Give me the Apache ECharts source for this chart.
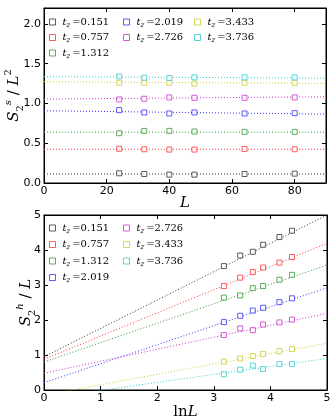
<!DOCTYPE html>
<html>
<head>
<meta charset="utf-8">
<script src="https://cdn.jsdelivr.net/npm/echarts@6/dist/echarts.min.js"></script>
<style>
  html, body { margin: 0; padding: 0; background: #fff; }
  #main { width: 336px; height: 420px; }
</style>
</head>
<body>
<div id="main"></div>
<script>
// 数据
var tzLabels = ['0.151', '0.757', '1.312', '2.019', '2.726', '3.433', '3.736'];
var colors = ['#333333', '#ff3333', '#339933', '#3333ff', '#cc33cc', '#cccc33', '#33cccc'];
var sizesL = [24, 32, 40, 48, 64, 80];
var lnL = [3.178, 3.466, 3.689, 3.871, 4.159, 4.382];

// S2^s / L^2 (上图)
var ssValues = [
  [0.122, 0.113, 0.105, 0.105, 0.113, 0.118],
  [0.430, 0.424, 0.420, 0.420, 0.428, 0.424],
  [0.626, 0.655, 0.655, 0.647, 0.643, 0.643],
  [0.916, 0.887, 0.874, 0.887, 0.874, 0.878],
  [1.050, 1.059, 1.076, 1.071, 1.071, 1.076],
  [1.260, 1.260, 1.260, 1.248, 1.260, 1.260],
  [1.340, 1.324, 1.320, 1.328, 1.328, 1.328]
];
// 拟合线 y = a + b*L
var ssFitA = [0.113, 0.424, 0.639, 0.908, 1.055, 1.273, 1.336];
var ssFitB = [0, 0, 0, -0.00047, 0.00032, -0.00023, -0.00019];

// S2^h / L (下图)
var shValues = [
  [3.54, 3.84, 3.95, 4.15, 4.37, 4.55],
  [2.97, 3.21, 3.37, 3.50, 3.64, 3.80],
  [2.64, 2.70, 2.91, 2.97, 3.15, 3.29],
  [1.94, 2.12, 2.27, 2.35, 2.51, 2.62],
  [1.57, 1.76, 1.71, 1.87, 1.93, 2.01],
  [0.81, 0.90, 0.97, 1.03, 1.11, 1.17],
  [0.45, 0.58, 0.70, 0.60, 0.74, 0.74]
];
// 拟合线 y = a + b*lnL
var shFitA = [0.95, 0.88, 0.80, 0.21, 0.48, -0.145, -0.24];
var shFitB = [0.81, 0.662, 0.554, 0.542, 0.342, 0.296, 0.228];

var tickFont = { color: '#000', fontFamily: 'DejaVu Sans', fontSize: 11, margin: 3 };
var mathRich = {
  i: { fontFamily: 'DejaVu Serif', fontStyle: 'italic', fontSize: 15, color: '#000' },
  n: { fontFamily: 'DejaVu Serif', fontSize: 15, color: '#000' },
  sub: { fontFamily: 'DejaVu Serif', fontSize: 10, color: '#000', verticalAlign: 'bottom', lineHeight: 22 },
  sup: { fontFamily: 'DejaVu Serif', fontStyle: 'italic', fontSize: 10, color: '#000', verticalAlign: 'top', lineHeight: 22 },
  supn: { fontFamily: 'DejaVu Serif', fontSize: 10, color: '#000', verticalAlign: 'top', lineHeight: 22 }
};
var legendRich = {
  i: { fontFamily: 'DejaVu Serif', fontStyle: 'italic', fontSize: 10, color: '#000' },
  z: { fontFamily: 'DejaVu Serif', fontStyle: 'italic', fontSize: 7, color: '#000', verticalAlign: 'bottom', lineHeight: 13, padding: [0, 2, 0, 0] },
  n: { fontFamily: 'DejaVu Serif', fontSize: 10, color: '#000' }
};

function legendName(i) { return 't_z=' + tzLabels[i]; }

function valueAxis(gridIndex, min, max, interval, extra) {
  var ax = {
    type: 'value', gridIndex: gridIndex, min: min, max: max, interval: interval,
    axisLine: { show: true, onZero: false, lineStyle: { color: '#000', width: 1 } },
    axisTick: { show: true, inside: true, length: 4, lineStyle: { color: '#000' } },
    axisLabel: tickFont,
    splitLine: { show: false }
  };
  for (var k in extra) ax[k] = extra[k];
  return ax;
}
function mirrorAxis(gridIndex, min, max, interval, pos) {
  return valueAxis(gridIndex, min, max, interval, { position: pos, axisLabel: { show: false } });
}

var chart = echarts.init(document.getElementById('main'), null, { renderer: 'canvas' });

var xAxes = [
  valueAxis(0, 0, 90, 20, {
    name: '{i|L}', nameLocation: 'middle', nameGap: 13, nameMoveOverlap: false,
    nameTextStyle: { rich: mathRich },
    axisLabel: { color: '#000', fontFamily: 'DejaVu Sans', fontSize: 11, margin: 3, showMaxLabel: false }
  }),
  mirrorAxis(0, 0, 90, 20, 'top'),
  valueAxis(1, 0, 5, 1, {
    name: '{n|ln}{i|L}', nameLocation: 'middle', nameGap: 15, nameMoveOverlap: false,
    nameTextStyle: { rich: mathRich }
  }),
  mirrorAxis(1, 0, 5, 1, 'top')
];
var yAxes = [
  valueAxis(0, 0, 2.2, 0.5, {
    name: '{i|S}{sub|2}{sup|s}{n| / }{i|L}{supn|2}', nameLocation: 'middle', nameGap: 19, nameRotate: 90,
    nameMoveOverlap: false,
    nameTextStyle: { rich: mathRich },
    axisLabel: { color: '#000', fontFamily: 'DejaVu Sans', fontSize: 11, margin: 3, showMaxLabel: false,
      formatter: function (v) { return v.toFixed(1); } }
  }),
  mirrorAxis(0, 0, 2.2, 0.5, 'right'),
  valueAxis(1, 0, 5, 1, {
    name: '{i|S}{sub|2}{sup|h}{n| / }{i|L}', nameLocation: 'middle', nameGap: 7, nameRotate: 90,
    nameMoveOverlap: false,
    nameTextStyle: { rich: mathRich }
  }),
  mirrorAxis(1, 0, 5, 1, 'right')
];

var series = [];

for (var i = 0; i < tzLabels.length; i++) {
  // 上图拟合线
  series.push({
    type: 'line', xAxisIndex: 0, yAxisIndex: 0, showSymbol: false, silent: true, z: 1,
    data: [[0, ssFitA[i]], [90, ssFitA[i] + ssFitB[i] * 90]],
    lineStyle: { color: colors[i], width: 1, type: [1, 2] }
  });
  series.push({
    type: 'scatter', name: legendName(i), xAxisIndex: 0, yAxisIndex: 0, symbol: 'rect', symbolSize: 5, z: 3,
    data: sizesL.map((function (row) { return function (L, j) { return [L, row[j]]; }; })(ssValues[i])),
    itemStyle: { color: '#fff', borderColor: colors[i], borderWidth: 1 }
  });
  // 下图拟合线
  series.push({
    type: 'line', xAxisIndex: 2, yAxisIndex: 2, showSymbol: false, silent: true, z: 1, clip: true,
    data: [[0, shFitA[i]], [5, shFitA[i] + shFitB[i] * 5]],
    lineStyle: { color: colors[i], width: 1, type: [1, 2] }
  });
  series.push({
    type: 'scatter', name: legendName(i), xAxisIndex: 2, yAxisIndex: 2, symbol: 'rect', symbolSize: 5, z: 3,
    data: lnL.map((function (row) { return function (x, j) { return [x, row[j]]; }; })(shValues[i])),
    itemStyle: { color: '#fff', borderColor: colors[i], borderWidth: 1 }
  });
}

function legendCol(idx, left, top, gap) {
  return {
    orient: 'vertical', left: left, top: top, itemGap: gap, itemWidth: 6, itemHeight: 6,
    selectedMode: false, padding: 0,
    data: idx.map(function (i) {
      return { name: legendName(i), icon: 'rect',
        itemStyle: { color: '#fff', borderColor: colors[i], borderWidth: 1 } };
    }),
    formatter: function (name) { return '{i|t}{z|z}{n|=' + name.split('=')[1] + '}'; },
    textStyle: { rich: legendRich, padding: [0, 0, 0, 2] }
  };
}

chart.setOption({
  animation: false,
  backgroundColor: '#fff',
  grid: [
    { left: 44, top: 8, width: 282, height: 175, show: true, borderColor: '#000', borderWidth: 1,
      containLabel: false, outerBoundsMode: 'none' },
    { left: 44, top: 215, width: 283, height: 175, show: true, borderColor: '#000', borderWidth: 1,
      containLabel: false, outerBoundsMode: 'none' }
  ],
  legend: [
    legendCol([0, 1, 2], 49, 17, 4),
    legendCol([3, 4], 123, 17, 4),
    legendCol([5, 6], 194, 17, 4),
    legendCol([0, 1, 2, 3], 49, 223, 5),
    legendCol([4, 5, 6], 123, 223, 5)
  ],
  xAxis: xAxes,
  yAxis: yAxes,
  series: series
});
</script>
</body>
</html>
